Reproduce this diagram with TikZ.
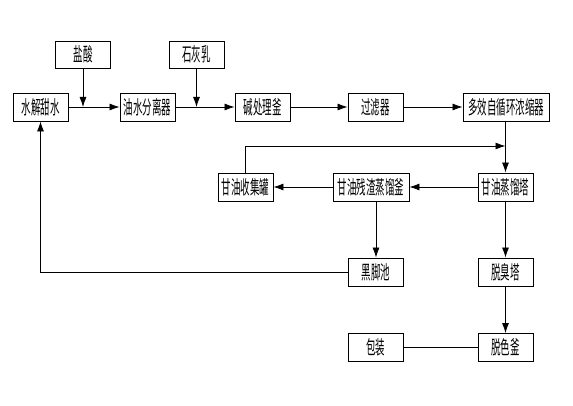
\documentclass[tikz,border=0pt]{standalone}
\usepackage{fontspec}
\usepackage{graphicx}
\newfontfamily\cjk{Noto Sans CJK SC}
\newcommand\tx[1]{\scalebox{0.5}[1]{#1}}
\usetikzlibrary{arrows.meta}
\tikzset{
  box/.style={draw, line width=0.9pt, minimum height=28pt, inner sep=0pt, font=\cjk\fontsize{19}{19}\selectfont, anchor=center},
  w55/.style={minimum width=55pt},
  flow/.style={draw, line width=0.8pt, -{Latex[length=10pt,width=7pt]}},
  plain/.style={draw, line width=0.8pt}
}
\begin{document}
\begin{tikzpicture}[x=1pt,y=-1pt]
\useasboundingbox (0,0) rectangle (573,406);
% row 1
\node[box,w55,minimum height=27pt] (yan) at (83,54.5) {\tx{盐酸}};
\node[box,w55,minimum height=27pt] (shi) at (196.5,54.5) {\tx{石灰乳}};
% row 2
\node[box,w55] (shui) at (40.5,107) {\tx{水解甜水}};
\node[box,w55] (you) at (147.5,107) {\tx{油水分离器}};
\node[box,w55] (jian) at (262.5,107) {\tx{碱处理釜}};
\node[box,w55] (guo) at (375.5,107) {\tx{过滤器}};
\node[box,minimum width=86pt] (duo) at (506,107) {\tx{多效自循环浓缩器}};
% row 3
\node[box,w55] (shou) at (245.5,187) {\tx{甘油收集罐}};
\node[box,minimum width=76pt] (can) at (371,187) {\tx{甘油残渣蒸馏釜}};
\node[box,w55] (zheng) at (505.5,187) {\tx{甘油蒸馏塔}};
% row 4
\node[box,w55] (hei) at (376,272) {\tx{黑脚池}};
\node[box,w55] (chou) at (505.5,272) {\tx{脱臭塔}};
% row 5
\node[box,w55] (bao) at (375.5,347.5) {\tx{包装}};
\node[box,w55] (se) at (505.5,347.5) {\tx{脱色釜}};
% coordinates
\coordinate (j1) at (83,107);
\coordinate (j2) at (196.5,107);
\coordinate (loopL) at (245.5,146);
\coordinate (loopR) at (505.5,146);
\coordinate (lb) at (40.5,272);
% connectors
\path[flow] (shui) -- (you);
\path[flow] (yan.south) -- (j1);
\path[flow] (you) -- (jian);
\path[flow] (shi.south) -- (j2);
\path[flow] (jian) -- (guo);
\path[flow] (guo) -- (duo);
\path[flow] (duo.south -| zheng) -- (zheng.north);
\path[flow] (shou.north) -- (loopL) -- (loopR);
\path[flow] (zheng) -- (can);
\path[flow] (can) -- (shou);
\path[flow] (can.south -| hei) -- (hei.north);
\path[flow] (zheng) -- (chou);
\path[flow] (chou) -- (se);
\path[plain] (bao) -- (se);
\path[flow] (hei.west) -- (lb) -- (shui.south);
\end{tikzpicture}
\end{document}
